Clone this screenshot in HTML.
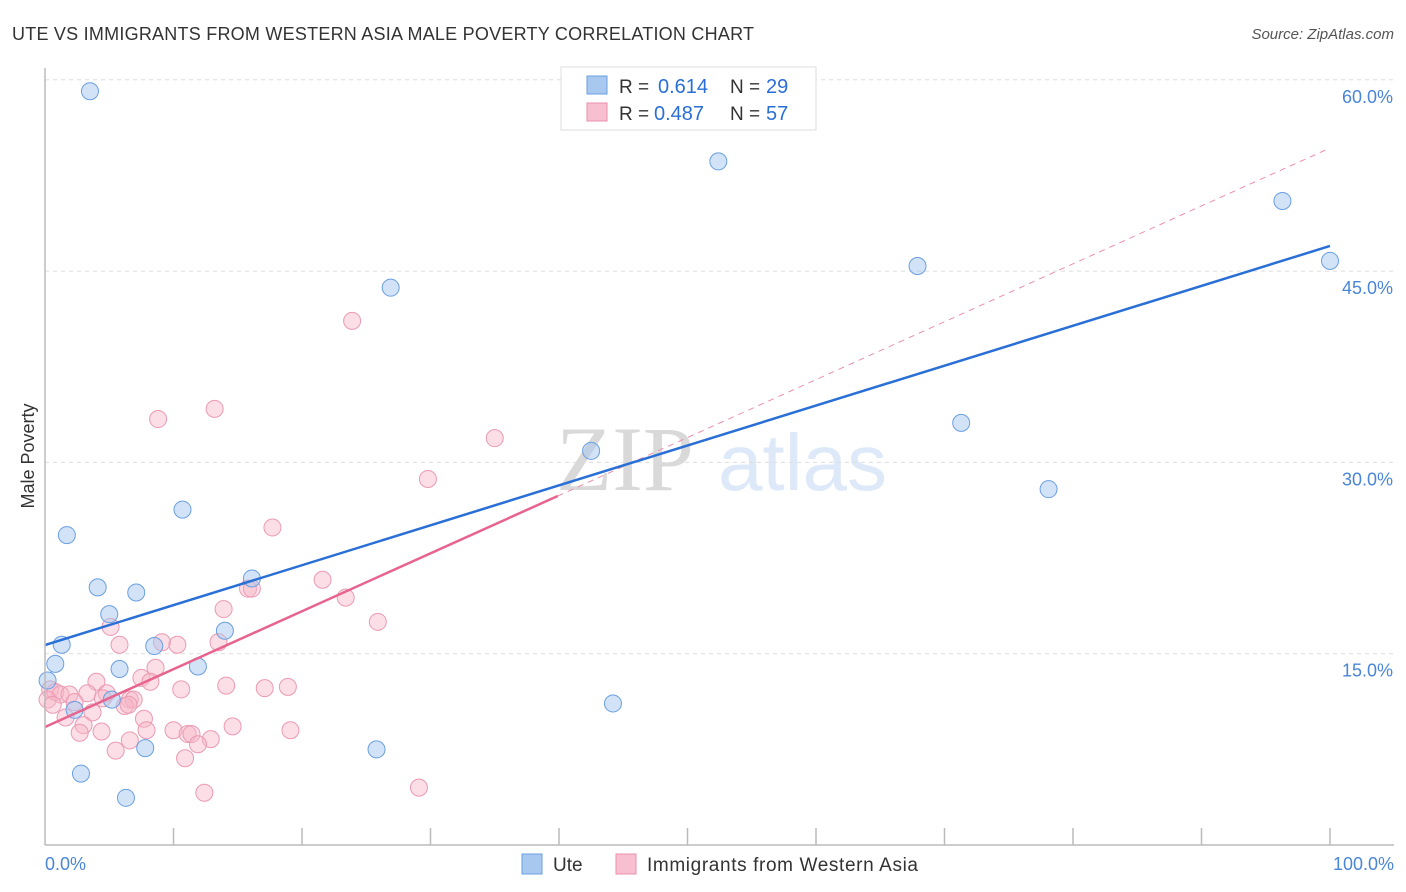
<!DOCTYPE html>
<html><head><meta charset="utf-8"><style>
body{margin:0;background:#fff;font-family:"Liberation Sans",sans-serif;}
svg{display:block}
</style></head><body>
<svg id="chart" width="1406" height="892">
<text x="12" y="40" font-size="18" fill="#333" textLength="742">UTE VS IMMIGRANTS FROM WESTERN ASIA MALE POVERTY CORRELATION CHART</text>
<text x="1394" y="39" font-size="15" fill="#555" font-style="italic" text-anchor="end">Source: ZipAtlas.com</text>
<text x="34" y="456" font-size="18" fill="#333" text-anchor="middle" transform="rotate(-90 34 456)">Male Poverty</text>
<g opacity="0.22"><text x="556" y="490" font-size="92" font-family="Liberation Serif,serif" fill="#555">ZIP</text><text x="718" y="490" font-size="80" fill="#6a9fe0">atlas</text></g>
<g id="grid"></g><g id="marks"></g><g id="lines"></g>
<line x1="45" y1="68" x2="45" y2="845" stroke="#bbb" stroke-width="1.5"/>
<line x1="45" y1="845" x2="1394" y2="845" stroke="#bbb" stroke-width="1.5"/>
<text x="45" y="870" font-size="18" fill="#4a86d8">0.0%</text>
<text x="1394" y="870" font-size="18" fill="#4a86d8" text-anchor="end">100.0%</text>
<g>
<rect x="561" y="67" width="255" height="63" fill="#fff" stroke="#ddd"/>
<rect x="587" y="76" width="20" height="18" fill="#a8c8f0" stroke="#6a9fe0"/>
<rect x="587" y="103" width="20" height="18" fill="#f7bfd0" stroke="#eb8fab"/>
<text x="619" y="93" font-size="19" fill="#333">R =</text><text x="658" y="93" font-size="20" fill="#2a6fd6">0.614</text>
<text x="730" y="93" font-size="19" fill="#333">N =</text><text x="766" y="93" font-size="20" fill="#2a6fd6">29</text>
<text x="619" y="120" font-size="19" fill="#333">R =</text><text x="654" y="120" font-size="20" fill="#2a6fd6">0.487</text>
<text x="730" y="120" font-size="19" fill="#333">N =</text><text x="766" y="120" font-size="20" fill="#2a6fd6">57</text>
</g>
<g>
<rect x="522" y="854" width="20" height="20" fill="#a8c8f0" stroke="#6a9fe0"/>
<text x="553" y="871" font-size="19" fill="#333">Ute</text>
<rect x="616" y="854" width="20" height="20" fill="#f7bfd0" stroke="#eb8fab"/>
<text x="647" y="871" font-size="19" fill="#333" textLength="271">Immigrants from Western Asia</text>
</g>
</svg>
<script>
const yTicks=[15,30,45,60];
const xTickCount=10;
const uteX=[3.5,52.4,96.3,100,67.9,26.9,71.3,42.5,78.1,10.7,1.7,16.1,4.1,7.1,5.0,14.0,1.3,8.5,0.8,11.9,5.8,0.2,5.2,2.3,44.2,7.8,25.8,2.8,6.3];
const uteY=[59.1,53.6,50.5,45.8,45.4,43.7,33.1,30.9,27.9,26.3,24.3,20.9,20.2,19.8,18.1,16.8,15.7,15.6,14.2,14.0,13.8,12.9,11.4,10.6,11.1,7.6,7.5,5.6,3.7];
const immX=[23.9,8.8,13.2,35.0,29.8,17.7,21.6,15.8,16.1,23.4,13.9,25.9,5.1,9.1,10.3,13.5,5.8,8.6,7.5,8.2,14.1,17.1,18.9,4.0,10.6,0.4,0.8,1.2,0.2,1.9,3.3,4.8,6.6,6.9,4.5,6.2,6.5,2.3,0.6,3.7,1.6,3.0,7.7,7.9,10.0,14.6,19.1,11.1,11.4,4.4,2.7,12.9,11.9,6.6,5.5,10.9,12.4,29.1];
const immY=[41.1,33.4,34.2,31.9,28.7,24.9,20.8,20.1,20.1,19.4,18.5,17.5,17.1,15.9,15.7,15.9,15.7,13.9,13.1,12.8,12.5,12.3,12.4,12.8,12.2,12.2,12.0,11.8,11.4,11.8,11.9,11.9,11.4,11.4,11.5,10.9,11.0,11.2,11.0,10.4,10.0,9.4,9.9,9.0,9.0,9.3,9.0,8.7,8.7,8.9,8.8,8.3,7.9,8.2,7.4,6.8,4.1,4.5];
const uteFit=[15.68,46.97];
const immFit=[9.25,54.65];
const immSolidEnd=39.9;
const NS='http://www.w3.org/2000/svg';
const X=v=>45+v*12.85, Y=v=>845-v*191.3/15;
const grid=document.getElementById('grid'),marks=document.getElementById('marks'),lines=document.getElementById('lines');
function mk(tag,attrs,parent){const e=document.createElementNS(NS,tag);for(const k in attrs)e.setAttribute(k,attrs[k]);parent.appendChild(e);return e;}
yTicks.forEach(t=>{
 const l=mk('line',{x1:45,x2:1394,y1:Y(t),y2:Y(t),stroke:'#ddd','stroke-dasharray':'4,4'},grid);
 
 
 const tx=mk('text',{x:1393,y:Y(t)+23,'font-size':18,fill:'#4a86d8','text-anchor':'end'},grid);
 tx.textContent=t.toFixed(1)+'%';
 
 
});
for(let i=1;i<=xTickCount;i++){
 const l=mk('line',{x1:X(i*10),x2:X(i*10),y1:828,y2:845,stroke:'#bbb','stroke-width':1.5},grid);
 
 
}
immX.forEach((v,i)=>{
 const c=mk('circle',{cx:X(v),cy:Y(immY[i]),r:8.5,fill:'rgba(247,182,200,0.45)',stroke:'#eb9ab3','stroke-width':1},marks);
 
 
});
uteX.forEach((v,i)=>{
 const c=mk('circle',{cx:X(v),cy:Y(uteY[i]),r:8.5,fill:'rgba(168,200,240,0.5)',stroke:'#6a9fe0','stroke-width':1},marks);
 
 
});
const fy=(f,x)=>f[0]+(f[1]-f[0])*x/100;
let d=mk('line',{x1:X(immSolidEnd),y1:Y(fy(immFit,immSolidEnd)),x2:X(100),y2:Y(fy(immFit,100)),stroke:'#eb8fab','stroke-width':1,'stroke-dasharray':'6,5'},lines);


let p=mk('line',{x1:X(0),y1:Y(fy(immFit,0)),x2:X(immSolidEnd),y2:Y(fy(immFit,immSolidEnd)),stroke:'#e8638e','stroke-width':2.5},lines);


let b=mk('line',{x1:X(0),y1:Y(fy(uteFit,0)),x2:X(100),y2:Y(fy(uteFit,100)),stroke:'#2a6fd6','stroke-width':2.5},lines);


</script>
</body></html>
